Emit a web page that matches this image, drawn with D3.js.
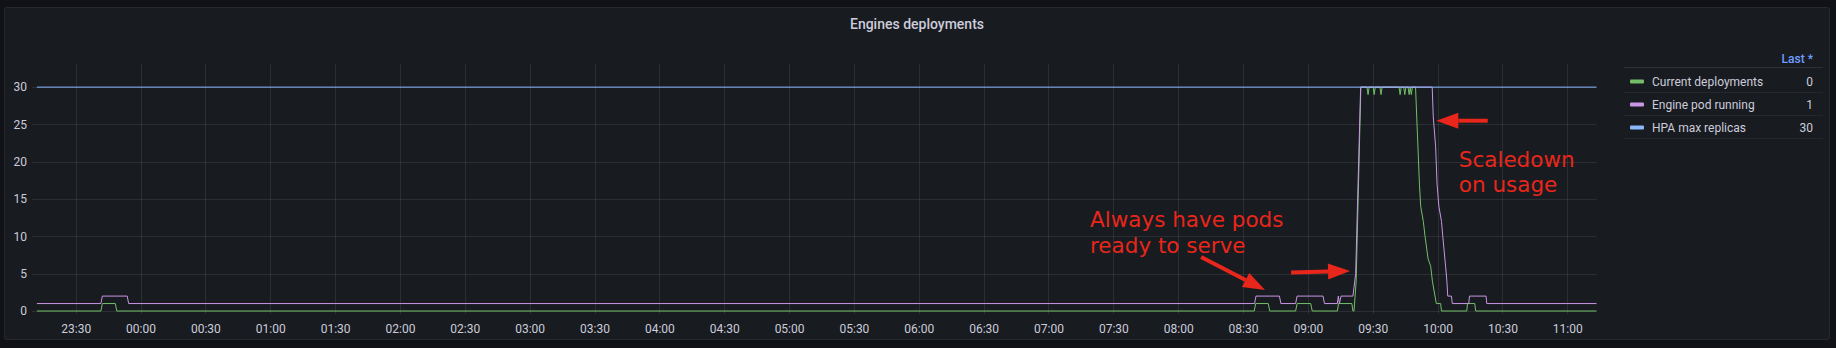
<!DOCTYPE html>
<html>
<head>
<meta charset="utf-8">
<script src="https://cdn.jsdelivr.net/npm/d3@7"></script>
<style>
  html, body { margin: 0; padding: 0; background: #111217; }
  svg { display: block; }
  text { font-family: Roboto, "Open Sans", sans-serif; }
</style>
</head>
<body>
<svg id="chart" width="1836" height="348"></svg>
<script>
// ---- data ----
const title = "Engines deployments";

const xTickLabels = ["23:30", "00:00", "00:30", "01:00", "01:30", "02:00", "02:30", "03:00",
  "03:30", "04:00", "04:30", "05:00", "05:30", "06:00", "06:30", "07:00", "07:30", "08:00",
  "08:30", "09:00", "09:30", "10:00", "10:30", "11:00"];
const yTicks = [0, 5, 10, 15, 20, 25, 30];
const timeStart = "23:11:58";
const timeEnd = "11:13:36";

const currentTimes = ["23:11:58", "23:41:40", "23:42:20", "23:48:20", "23:49:00",
  "08:35:10", "08:35:50", "08:41:40", "08:42:20", "08:54:20", "08:55:00", "09:01:20", "09:02:00",
  "09:13:40", "09:14:10", "09:20:20", "09:20:50", "09:21:20", "09:22:20", "09:24:30",
  "09:27:20", "09:27:50", "09:28:20", "09:30:10", "09:30:40", "09:31:10", "09:33:20", "09:33:50", "09:34:20",
  "09:42:10", "09:42:40", "09:43:10", "09:44:20", "09:44:50", "09:45:20", "09:46:20", "09:46:50",
  "09:47:20", "09:47:50", "09:48:20", "09:49:48", "09:51:36", "09:52:12", "09:53:24", "09:54:12",
  "09:55:36", "09:56:48", "09:57:36", "09:59:24", "10:01:24", "10:01:48", "10:13:30", "10:13:50",
  "10:17:12", "10:17:36", "11:13:36"];
const currentValues = [0, 0, 1, 1, 0,
  0, 1, 1, 0, 0, 1, 1, 0,
  0, 1, 1, 0, 0, 4, 30,
  30, 29, 30, 30, 29, 30, 30, 29, 30,
  30, 29, 30, 30, 29, 30, 30, 29,
  30, 29, 30, 30, 17, 14, 12, 10,
  7, 6, 4, 1, 1, 0, 0, 1,
  1, 0, 0];

const podTimes = ["23:11:58", "23:41:40", "23:42:20", "23:53:50", "23:54:30",
  "08:35:20", "08:36:00", "08:46:50", "08:47:30", "08:54:20", "08:55:00", "09:07:00", "09:07:40",
  "09:13:40", "09:14:05", "09:14:35", "09:15:20", "09:20:50", "09:22:06", "09:24:24",
  "09:57:30", "09:58:00", "09:59:06", "09:59:45", "10:00:36", "10:01:48", "10:02:24", "10:03:42",
  "10:04:18", "10:04:42", "10:06:24", "10:06:48", "10:14:24", "10:14:45", "10:22:24", "10:22:45",
  "11:13:36"];
const podValues = [1, 1, 2, 2, 1,
  1, 2, 2, 1, 1, 2, 2, 1,
  1, 2, 1, 2, 2, 5, 30,
  30, 26, 22, 17, 14, 12, 10, 6,
  4, 2, 2, 1, 1, 2, 2, 1,
  1];

const hpaTimes = ["23:11:58", "11:13:36"];
const hpaValues = [30, 30];

const seriesNames = ["Current deployments", "Engine pod running", "HPA max replicas"];
const seriesColors = ["#73BF69", "#CA95E5", "#8AB8FF"];
const lastValues = [0, 1, 30];

// annotation text/arrows, anchored in data space
const notes = [
  { text: "Always have pods", t: "07:19:12", v: 11.26 },
  { text: "ready to serve", t: "07:19:12", v: 7.78 },
  { text: "Scaledown", t: "10:09:48", v: 19.3 },
  { text: "on usage", t: "10:09:48", v: 15.96 }
];
const arrows = [
  { from: ["08:10:36", 7.24], to: ["08:40:12", 2.8] },
  { from: ["08:52:12", 5.16], to: ["09:19:30", 5.36] },
  { from: ["10:23:12", 25.5], to: ["09:59:24", 25.5] }
];

// times before noon belong to the next day
function toDate(s) {
  const [h, m, sec] = s.split(":").map(Number);
  return new Date(2024, 0, h >= 12 ? 1 : 2, h, m, sec || 0);
}

const svg = d3.select("#chart");
const plot = { left: 36.7, right: 1596.7, top: 64, bottom: 314 };
const textColor = "#ccccdc";
const gridColor = "rgba(240,250,255,0.09)";

// panel
svg.append("rect")
    .attr("x", 4.5).attr("y", 7.5)
    .attr("width", 1825).attr("height", 332)
    .attr("rx", 2)
    .attr("fill", "#181b1f")
    .attr("stroke", "rgba(204,204,220,0.1)");

svg.append("text")
    .attr("x", 917).attr("y", 28.5)
    .attr("text-anchor", "middle")
    .attr("fill", textColor)
    .style("font-size", "14px")
    .style("font-weight", 500)
    .text(title);

const x = d3.scaleTime()
    .domain([toDate(timeStart), toDate(timeEnd)])
    .range([plot.left, plot.right]);

const y = d3.scaleLinear()
    .domain([-0.4, 33.1])
    .range([plot.bottom, plot.top]);

// grid
const g = svg.append("g");
g.selectAll(".vgrid")
  .data(xTickLabels)
  .join("line")
    .attr("x1", d => Math.round(x(toDate(d))) + 0.5)
    .attr("x2", d => Math.round(x(toDate(d))) + 0.5)
    .attr("y1", plot.top).attr("y2", plot.bottom)
    .attr("stroke", gridColor);

g.selectAll(".hgrid")
  .data(yTicks)
  .join("line")
    .attr("x1", 32).attr("x2", plot.right)
    .attr("y1", d => Math.round(y(d)) + 0.5)
    .attr("y2", d => Math.round(y(d)) + 0.5)
    .attr("stroke", gridColor);

// axes
const xAxis = svg.append("g")
    .attr("transform", `translate(0,${plot.bottom})`)
    .call(d3.axisBottom(x)
        .tickValues(xTickLabels.map(toDate))
        .tickFormat(d3.timeFormat("%H:%M"))
        .tickSize(0)
        .tickPadding(10));
xAxis.select(".domain").remove();
xAxis.selectAll("text")
    .attr("fill", textColor)
    .style("font-size", "12px")
    .style("font-family", "Roboto, sans-serif");

const yAxis = svg.append("g")
    .attr("transform", "translate(27,0)")
    .call(d3.axisLeft(y).tickValues(yTicks).tickSize(0).tickPadding(0));
yAxis.select(".domain").remove();
yAxis.selectAll("text")
    .attr("fill", textColor)
    .style("font-size", "12px")
    .style("font-family", "Roboto, sans-serif");

// series
svg.append("clipPath").attr("id", "clip")
  .append("rect")
    .attr("x", plot.left).attr("y", plot.top - 2)
    .attr("width", plot.right - plot.left).attr("height", plot.bottom - plot.top + 2);

const line = d3.line()
    .x(d => x(d[0]))
    .y(d => y(d[1]));

const series = [
  { times: currentTimes, values: currentValues, color: seriesColors[0] },
  { times: podTimes, values: podValues, color: seriesColors[1] },
  { times: hpaTimes, values: hpaValues, color: seriesColors[2] }
];

series.forEach(s => {
  const pts = s.times.map((t, i) => [toDate(t), s.values[i]]);
  svg.append("path")
      .datum(pts)
      .attr("clip-path", "url(#clip)")
      .attr("fill", "none")
      .attr("stroke", s.color)
      .attr("stroke-width", 1)
      .attr("d", line);
});

// legend
const lg = svg.append("g");
lg.append("text")
    .attr("x", 1813).attr("y", 62.5)
    .attr("text-anchor", "end")
    .attr("fill", "#6e9fff")
    .style("font-size", "12px")
    .style("font-weight", 500)
    .text("Last *");
lg.append("line")
    .attr("x1", 1624).attr("x2", 1823)
    .attr("y1", 67.5).attr("y2", 67.5)
    .attr("stroke", "rgba(204,204,220,0.12)");

seriesNames.forEach((name, i) => {
  const cy = 81.5 + i * 23;
  lg.append("rect")
      .attr("x", 1630).attr("y", cy - 2)
      .attr("width", 14).attr("height", 4)
      .attr("rx", 1)
      .attr("fill", seriesColors[i]);
  lg.append("text")
      .attr("x", 1652).attr("y", cy + 4)
      .attr("fill", textColor)
      .style("font-size", "12px")
      .text(name);
  lg.append("text")
      .attr("x", 1813).attr("y", cy + 4)
      .attr("text-anchor", "end")
      .attr("fill", textColor)
      .style("font-size", "12px")
      .text(lastValues[i]);
  lg.append("line")
      .attr("x1", 1624).attr("x2", 1823)
      .attr("y1", cy + 11).attr("y2", cy + 11)
      .attr("stroke", "rgba(204,204,220,0.07)");
});

// annotations
const red = "#e8261b";
notes.forEach(n => {
  svg.append("text")
      .attr("x", x(toDate(n.t)))
      .attr("y", y(n.v))
      .attr("fill", red)
      .style("font-family", "'DejaVu Sans', sans-serif")
      .style("font-size", "21.5px")
      .text(n.text);
});

arrows.forEach(a => {
  const x1 = x(toDate(a.from[0])), y1 = y(a.from[1]);
  const x2 = x(toDate(a.to[0])), y2 = y(a.to[1]);
  const ang = Math.atan2(y2 - y1, x2 - x1);
  const headLen = 22, headW = 8;
  const bx = x2 - headLen * Math.cos(ang), by = y2 - headLen * Math.sin(ang);
  svg.append("line")
      .attr("x1", x1).attr("y1", y1)
      .attr("x2", bx).attr("y2", by)
      .attr("stroke", red)
      .attr("stroke-width", 4);
  const px = -Math.sin(ang) * headW, py = Math.cos(ang) * headW;
  svg.append("polygon")
      .attr("points", [[x2, y2], [bx + px, by + py], [bx - px, by - py]].map(p => p.join(",")).join(" "))
      .attr("fill", red);
});
</script>
</body>
</html>
